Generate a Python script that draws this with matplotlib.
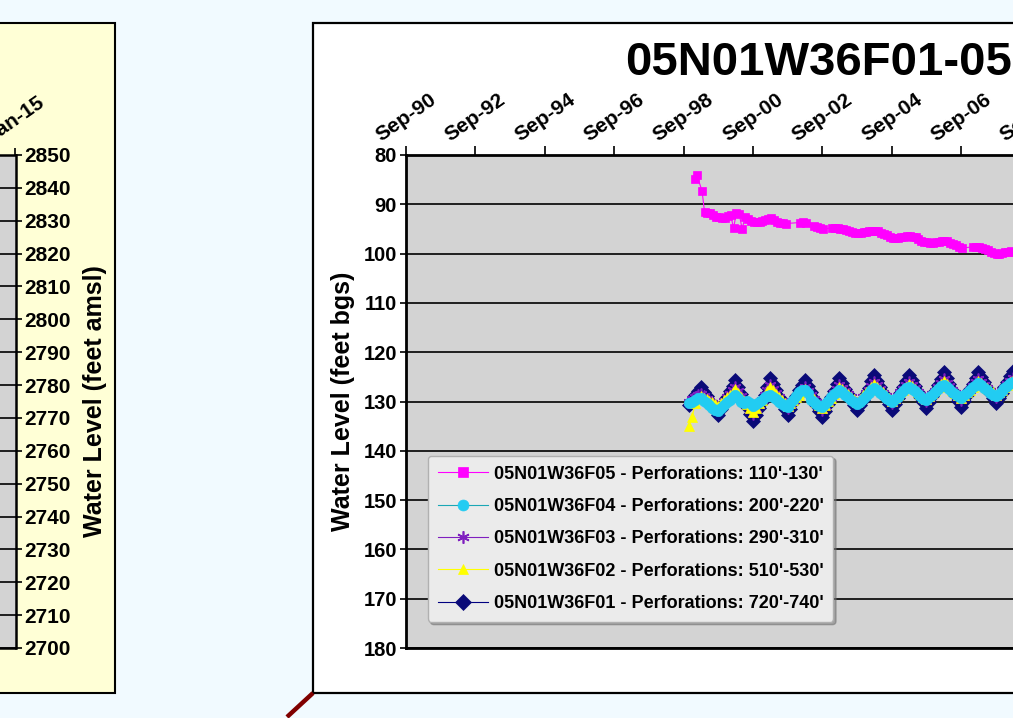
import numpy as np
import pandas as pd
import matplotlib
matplotlib.use('Agg')
import matplotlib.pyplot as plt
import matplotlib.dates as mdates
from matplotlib.patches import Rectangle
from matplotlib.lines import Line2D

plt.rcParams['font.family'] = ['Liberation Sans', 'DejaVu Sans']
plt.rcParams['font.weight'] = 'bold'

# ---- nested wells, monthly depth to water (feet bgs), first month Nov-1998 ----
start_month = '1998-11-01'

f01 = [130.8, 129.6,
       128.6, 127.8, 127.0, 128.0, 128.9, 129.9, 130.8, 131.8, 132.7, 131.5, 130.3, 129.1,
       127.9, 126.8, 125.6, 127.0, 128.4, 129.8, 131.2, 132.6, 134.0, 132.7, 131.3, 130.0,
       128.6, 127.0, 125.3, 126.5, 127.7, 129.0, 130.2, 131.5, 132.7, 131.5, 130.2, 128.9,
       127.7, 126.6, 125.6, 126.9, 128.1, 129.4, 130.7, 131.9, 133.2, 131.9, 130.5, 129.1,
       127.8, 126.5, 125.2, 126.3, 127.4, 128.5, 129.6, 130.7, 131.8, 130.7, 129.6, 128.4,
       127.2, 125.9, 124.6, 125.8, 127.0, 128.2, 129.3, 130.5, 131.7, 130.5, 129.3, 128.2,
       127.0, 125.8, 124.6, 125.7, 126.9, 128.0, 129.1, 130.2, 131.3, 130.1, 128.9, 127.8,
       126.6, 125.4, 124.1, 125.3, 126.4, 127.6, 128.7, 129.9, 131.1, 129.9, 128.7, 127.5,
       126.4, 125.2, 124.0, 125.1, 126.1, 127.2, 128.3, 129.3, 130.4, 129.3, 128.2, 127.1,
       126.0, 124.9, 123.8, 124.9, 126.0]

f02 = [135.0, 133.2, 130.4, 129.5, 128.8,
       129.2, 129.5, 129.9, 130.2, 130.6, 130.9, 130.3, 129.7, 129.1, 128.6, 128.0, 127.4,
       128.2, 129.0, 129.8, 130.6, 131.4, 132.2, 131.3, 130.3, 129.6, 128.8, 127.9, 127.1,
       127.7, 128.4, 129.0, 129.6, 130.3, 130.9, 130.3, 129.7, 129.1, 128.6, 128.0, 127.4,
       128.1, 128.7, 129.4, 130.1, 130.7, 131.4, 130.7, 129.9, 129.2, 128.5, 127.7, 127.0,
       127.5, 128.0, 128.5, 129.0, 129.5, 130.0, 129.4, 128.7, 128.1, 127.6, 127.0, 126.4,
       127.0, 127.6, 128.1, 128.7, 129.3, 129.9, 129.3, 128.7, 128.1, 127.6, 127.0, 126.4,
       126.9, 127.5, 128.0, 128.5, 129.0, 129.5, 128.9, 128.3, 127.7, 127.1, 126.5, 125.9,
       126.5, 127.0, 127.6, 128.2, 128.7, 129.3, 128.7, 128.1, 127.6, 127.0, 126.4, 125.8,
       126.3, 126.8, 127.2, 127.7, 128.1, 128.6, 128.1, 127.6, 127.1, 126.6, 126.1, 125.6,
       126.2, 126.8]

f03 = [130.0, 129.5, 129.1, 128.7, 128.4,
       128.9, 129.4, 129.9, 130.3, 130.8, 131.3, 130.6, 129.9, 129.1, 128.4, 127.7, 127.0,
       127.9, 128.9, 129.8, 130.7, 131.7, 132.6, 131.6, 130.7, 129.7, 128.7, 127.7, 126.7,
       127.5, 128.3, 129.0, 129.8, 130.6, 131.3, 130.6, 129.9, 129.2, 128.4, 127.7, 127.0,
       127.8, 128.6, 129.4, 130.2, 131.0, 131.8, 130.9, 130.0, 129.2, 128.3, 127.5, 126.6,
       127.2, 127.9, 128.5, 129.1, 129.8, 130.4, 129.7, 129.0, 128.3, 127.6, 126.8, 126.0,
       126.7, 127.4, 128.2, 128.9, 129.6, 130.3, 129.6, 128.9, 128.1, 127.4, 126.7, 126.0,
       126.7, 127.3, 128.0, 128.6, 129.3, 129.9, 129.2, 128.5, 127.8, 127.0, 126.3, 125.5,
       126.2, 126.9, 127.6, 128.3, 129.0, 129.7, 129.0, 128.3, 127.6, 126.9, 126.1, 125.4,
       126.0, 126.6, 127.2, 127.8, 128.4, 129.0, 128.4, 127.8, 127.2, 126.4, 125.8, 125.2,
       125.8, 126.4]

f04 = [130.4, 130.0,
       129.6, 129.3, 129.3, 129.8, 130.3, 130.8, 131.3, 131.8, 132.0, 131.4, 130.8, 130.2,
       129.6, 129.0, 128.7, 129.2, 130.1, 130.4, 129.8, 130.4, 130.9, 130.6, 130.1, 129.6,
       129.1, 128.8, 128.6, 129.0, 129.5, 130.0, 130.5, 130.9, 131.1, 130.4, 129.6, 128.8,
       128.1, 127.7, 127.7, 128.3, 129.6, 130.2, 130.6, 131.0, 131.1, 130.5, 129.8, 129.1,
       128.5, 128.0, 127.7, 128.1, 128.6, 129.1, 129.6, 130.1, 130.5, 130.0, 129.4, 128.8,
       128.2, 127.6, 127.3, 127.7, 128.2, 128.7, 129.2, 129.7, 130.0, 129.5, 129.0, 128.4,
       127.9, 127.3, 127.0, 127.4, 127.9, 128.4, 128.9, 129.4, 129.6, 129.1, 128.6, 128.0,
       127.5, 126.9, 126.6, 127.0, 127.5, 128.0, 128.5, 128.9, 129.2, 128.7, 128.2, 127.6,
       127.1, 126.6, 126.3, 126.7, 127.2, 127.7, 128.2, 128.6, 128.9, 128.4, 127.9, 127.3,
       126.8, 126.3, 126.1, 126.5, 127.0]

# shallow well F05 (irregular sampling, with gaps)
f05_dates = ['1999-01-01', '1999-01-20', '1999-03-15', '1999-04-10', '1999-05-10', '1999-06-10',
             '1999-07-10', '1999-08-10', '1999-09-10', '1999-10-10', '1999-11-10', '1999-12-10',
             '2000-01-10', '2000-02-10', '2000-03-10', '2000-04-10', '2000-05-10', '2000-06-10',
             '2000-07-10', '2000-08-10', '2000-09-10', '2000-10-10', '2000-11-10', '2000-12-10',
             '2001-01-10', '2001-02-10', '2001-03-10', '2001-04-10', '2001-05-10', '2001-06-10',
             '2001-07-10', '2001-08-10',
             '2002-01-10', '2002-02-10', '2002-03-10',
             '2002-06-10', '2002-07-10', '2002-08-10', '2002-09-10',
             '2002-12-10', '2003-01-10', '2003-02-10', '2003-03-10', '2003-04-10', '2003-05-10',
             '2003-06-10', '2003-07-10', '2003-08-10', '2003-09-10', '2003-10-10', '2003-11-10',
             '2003-12-10', '2004-01-10', '2004-02-10', '2004-03-10', '2004-04-10', '2004-05-10',
             '2004-06-10', '2004-07-10', '2004-08-10', '2004-09-10', '2004-10-10', '2004-11-10',
             '2004-12-10', '2005-01-10', '2005-02-10', '2005-03-10', '2005-04-10', '2005-05-10',
             '2005-06-10', '2005-07-10', '2005-08-10', '2005-09-10', '2005-10-10', '2005-11-10',
             '2005-12-10', '2006-01-10', '2006-02-10', '2006-03-10', '2006-04-10', '2006-05-10',
             '2006-06-10', '2006-07-10', '2006-08-10', '2006-09-10',
             '2007-01-10', '2007-02-10', '2007-03-10', '2007-04-10', '2007-05-10', '2007-06-10',
             '2007-07-10', '2007-08-10', '2007-09-10', '2007-10-10', '2007-11-10', '2007-12-10',
             '2008-01-10', '2008-02-10', '2008-03-10']
f05 = [84.9, 84.1, 87.3, 91.5, 91.7, 91.8,
       92.1, 92.5, 92.6, 92.8, 92.7, 92.4,
       92.2, 94.8, 91.8, 92.0, 95.0, 92.6,
       93.0, 93.3, 93.5, 93.6, 93.5, 93.4,
       93.2, 93.0, 92.8, 93.1, 93.5, 93.7,
       93.8, 93.9,
       93.7, 93.6, 93.8,
       94.4, 94.6, 94.8, 95.0,
       94.8, 94.9, 94.8, 95.0, 95.1, 95.2,
       95.4, 95.6, 95.8, 95.9, 95.8, 95.7,
       95.6, 95.5, 95.4, 95.4, 95.5, 95.8,
       96.1, 96.3, 96.6, 96.8, 96.9, 96.8,
       96.7, 96.6, 96.5, 96.5, 96.6, 96.7,
       97.0, 97.4, 97.6, 97.7, 97.8, 97.8,
       97.7, 97.6, 97.5, 97.4, 97.5, 97.8,
       98.1, 98.3, 98.6, 98.9,
       98.6, 98.6, 98.7, 98.9, 99.1, 99.3,
       99.6, 99.9, 100.1, 100.1, 99.9, 99.7,
       99.6, 99.5, 99.7]

labels = ["05N01W36F05 - Perforations: 110'-130'",
          "05N01W36F04 - Perforations: 200'-220'",
          "05N01W36F03 - Perforations: 290'-310'",
          "05N01W36F02 - Perforations: 510'-530'",
          "05N01W36F01 - Perforations: 720'-740'"]

elev_ticks = list(range(2700, 2851, 10))
depth_ticks = list(range(80, 181, 10))

months = pd.date_range(start_month, periods=len(f01), freq='MS')
f05_t = pd.to_datetime(f05_dates)

# ---------------- figure / panels ----------------
W, H = 1013, 718
fig = plt.figure(figsize=(W / 100, H / 100), dpi=100, facecolor='#F1FAFF')


def fx(p):
    return p / W


def fy(p):
    return 1 - p / H


fig.patches.append(Rectangle((fx(-10), fy(693)), fx(125), 670 / H, transform=fig.transFigure,
                             facecolor='#FFFFD6', edgecolor='black', lw=1.5, zorder=-2))
fig.patches.append(Rectangle((fx(313), fy(693)), fx(1100), 670 / H, transform=fig.transFigure,
                             facecolor='white', edgecolor='black', lw=1.6, zorder=-2))
fig.add_artist(Line2D([fx(313), fx(287)], [fy(693), fy(717)], transform=fig.transFigure,
                      color='#800000', lw=3.2, solid_capstyle='butt'))

# left hydrograph (elevation), only its right edge shows
axl = fig.add_axes([fx(15.5 - 694), fy(648), 694 / W, 493 / H])
axl.set_facecolor('#D3D3D3')
axl.set_xlim(pd.Timestamp('1995-01-01'), pd.Timestamp('2015-01-01'))
axl.set_ylim(2700, 2850)
axl.set_yticks(elev_ticks)
axl.yaxis.tick_right()
axl.yaxis.set_label_position('right')
axl.xaxis.tick_top()
axl.set_xticks([pd.Timestamp('2015-01-01')])
axl.xaxis.set_major_formatter(mdates.DateFormatter('%b-%y'))
axl.tick_params(axis='x', labelsize=15, labelrotation=35, length=5, width=1.2, pad=1)
axl.tick_params(axis='y', labelsize=15, length=4, width=1.2, pad=2)
axl.yaxis.grid(True, color='black', lw=1.2)
axl.set_axisbelow(True)
for s in axl.spines.values():
    s.set_linewidth(1.8)
axl.set_ylabel('Water Level (feet amsl)', fontsize=18, fontweight='bold', labelpad=9)

# main hydrograph (depth to water)
ax = fig.add_axes([fx(406), fy(648), 902 / W, 493 / H])
ax.set_facecolor('#D3D3D3')
ax.set_xlim(pd.Timestamp('1990-09-01'), pd.Timestamp('2016-09-01'))
ax.set_ylim(180, 80)
ax.set_yticks(depth_ticks)
ax.xaxis.tick_top()
ax.xaxis.set_major_locator(mdates.YearLocator(2, month=9, day=1))
ax.xaxis.set_major_formatter(mdates.DateFormatter('%b-%y'))
ax.tick_params(axis='x', labelsize=15, labelrotation=35, length=6.5, width=1.2, pad=1)
ax.tick_params(axis='y', labelsize=14.5, length=4.5, width=1.2, pad=2)
ax.yaxis.grid(True, color='black', lw=1.2)
ax.set_axisbelow(True)
for s in ax.spines.values():
    s.set_linewidth(2)
ax.set_ylabel('Water Level (feet bgs)', fontsize=18, fontweight='bold', labelpad=6)

h01, = ax.plot(months, f01, color='#000080', lw=0.8, marker='D', ms=7.5,
               mfc='#0A0A78', mec='#0A0A78', mew=0.5, zorder=3)
h03, = ax.plot(months, f03, color='#7F1FBF', lw=0.8, marker=(6, 2, 0), ms=8.5,
               mfc='#7F1FBF', mec='#7F1FBF', mew=1.2, zorder=4)
h02, = ax.plot(months, f02, color='#FFFF00', lw=0.8, marker='^', ms=7,
               mfc='#FFFF00', mec='#FFFF00', mew=0.5, zorder=5)
h04, = ax.plot(months, f04, color='#1AA7B5', lw=0.8, marker='o', ms=7.5,
               mfc='#22CCF2', mec='#22CCF2', mew=0.5, zorder=6)
h05, = ax.plot(f05_t, f05, color='#FF00FF', lw=0.8, marker='s', ms=6.3,
               mfc='#FF00FF', mec='#FF00FF', mew=0.5, zorder=7)

leg = ax.legend([h05, h04, h03, h02, h01], labels, loc='lower left',
                bbox_to_anchor=(0.024, 0.053), fontsize=13, frameon=True, fancybox=True,
                shadow={'color': '#6E6E6E'}, facecolor='#EBEBEB', edgecolor='#B0B0B0',
                framealpha=1, handlelength=2.8, handletextpad=0.3, labelspacing=0.85,
                borderpad=0.55, borderaxespad=0, markerscale=1.05)
leg.set_zorder(10)
for t in leg.get_texts():
    t.set_fontweight('bold')

fig.text(fx(625), fy(75), '05N01W36F01-05', fontsize=34, fontweight='bold',
         ha='left', va='baseline')

fig.savefig('out.png', dpi=100, facecolor=fig.get_facecolor())
